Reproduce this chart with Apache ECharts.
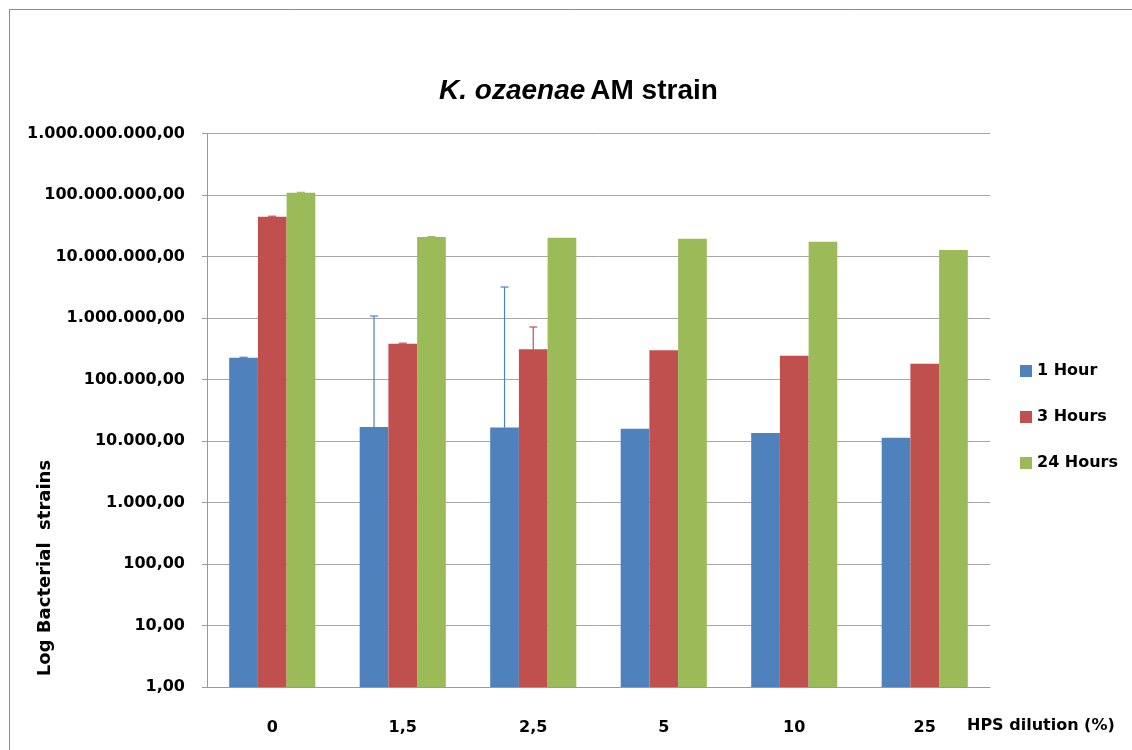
<!DOCTYPE html>
<html>
<head>
<meta charset="utf-8">
<script src="https://cdn.jsdelivr.net/npm/echarts@6/dist/echarts.min.js"></script>
<style>
html,body{margin:0;padding:0;background:#fff;}
#chart{width:1132px;height:750px;}
</style>
</head>
<body>
<div id="chart"></div>
<script>
// ---- data ----
const categories = ['0', '1,5', '2,5', '5', '10', '25'];
const seriesNames = ['1 Hour', '3 Hours', '24 Hours'];
const hour1 = [226000, 16900, 16500, 15800, 13500, 11300];
const hour3 = [44400000, 382000, 310000, 298000, 244000, 181000];
const hour24 = [109000000, 20800000, 20200000, 19500000, 17400000, 12800000];
// upper error amounts (0 = no error bar drawn)
const err1 = [4000, 1060000, 3170000, 0, 0, 0];
const err3 = [800000, 8000, 404000, 0, 0, 0];
const err24 = [1500000, 300000, 0, 0, 0, 0];

const colors = ['#4F81BD', '#C0504D', '#9BBB59'];
const FONT = 'DejaVu Sans';

function fmt(v) {
  const r = Math.round(v);
  const s = String(r).replace(/\B(?=(\d{3})+(?!\d))/g, '.');
  return s + ',00';
}

const values = [hour1, hour3, hour24];
const errs = [err1, err3, err24];
const GAP = 0.34;

const barSeries = values.map((vals, i) => ({
  name: seriesNames[i],
  type: 'bar',
  data: vals,
  barGap: '0%',
  barCategoryGap: '34%',
  itemStyle: { color: colors[i] },
  z: 2
}));

const errSeries = values.map((vals, i) => ({
  type: 'custom',
  name: seriesNames[i] + ' err',
  data: vals.map((v, k) => [k, v, v + errs[i][k], errs[i][k]]),
  renderItem: function (params, api) {
    if (api.value(3) <= 0) return null;
    const k = api.value(0);
    const p0 = api.coord([k, api.value(1)]);
    const p1 = api.coord([k, api.value(2)]);
    const band = api.size([1, 0])[0];
    const bw = band * (1 - GAP) / 3;
    const x = p0[0] + (i - 1) * bw;
    const cap = 4;
    const style = { stroke: colors[i], lineWidth: 1.2 };
    return {
      type: 'group',
      children: [
        { type: 'line', shape: { x1: x, y1: p0[1], x2: x, y2: p1[1] }, style: style },
        { type: 'line', shape: { x1: x - cap, y1: p1[1], x2: x + cap, y2: p1[1] }, style: style }
      ]
    };
  },
  z: 5,
  silent: true,
  tooltip: { show: false }
}));

const chart = echarts.init(document.getElementById('chart'), null, { renderer: 'canvas' });
chart.setOption({
  animation: false,
  backgroundColor: '#ffffff',
  title: {
    text: '{i|K. ozaenae} {n|AM strain}',
    left: 434,
    top: 72,
    textStyle: {
      rich: {
        i: { fontFamily: 'Liberation Sans', fontSize: 28, fontStyle: 'italic', color: '#000' },
        n: { fontFamily: 'Liberation Sans', fontSize: 28, color: '#000' }
      }
    }
  },
  legend: {
    data: seriesNames,
    orient: 'vertical',
    left: 1015,
    top: 358,
    itemWidth: 12,
    itemHeight: 12,
    itemGap: 30,
    icon: 'rect',
    textStyle: { fontFamily: FONT, fontWeight: 'bold', fontSize: 16, color: '#000' }
  },
  grid: { left: 207, right: 142, top: 133.5, bottom: 63, containLabel: false },
  xAxis: {
    type: 'category',
    data: categories,
    axisLine: { lineStyle: { color: '#9a9a9a', width: 1 } },
    axisTick: { show: false },
    axisLabel: { margin: 33, fontFamily: FONT, fontWeight: 'bold', fontSize: 16, color: '#000' }
  },
  yAxis: {
    type: 'log',
    logBase: 10,
    min: 1,
    max: 1000000000,
    splitNumber: 9,
    axisLine: { show: true, lineStyle: { color: '#9a9a9a', width: 1 } },
    axisTick: { show: true, length: 5, inside: false, lineStyle: { color: '#9a9a9a' } },
    splitLine: { show: true, lineStyle: { color: '#a6a6a6', width: 1 } },
    axisLabel: {
      margin: 22,
      fontFamily: FONT, fontWeight: 'bold', fontSize: 16, color: '#000',
      formatter: function (v) { return fmt(v); }
    }
  },
  graphic: [
    { type: 'rect', shape: { x: 9.5, y: 9.5, width: 1200, height: 800 }, style: { fill: 'none', stroke: '#8c8c8c', lineWidth: 1 }, z: 0 },
    { type: 'text', x: 45, y: 568, rotation: Math.PI / 2,
      style: { text: 'Log Bacterial  strains', fontFamily: FONT, fontWeight: 'bold', fontSize: 18, fill: '#000', align: 'center', verticalAlign: 'middle' } },
    { type: 'text', x: 967, y: 726,
      style: { text: 'HPS dilution (%)', fontFamily: FONT, fontWeight: 'bold', fontSize: 16, fill: '#000', align: 'left', verticalAlign: 'middle' } }
  ],
  series: barSeries.concat(errSeries)
});
</script>
</body>
</html>
